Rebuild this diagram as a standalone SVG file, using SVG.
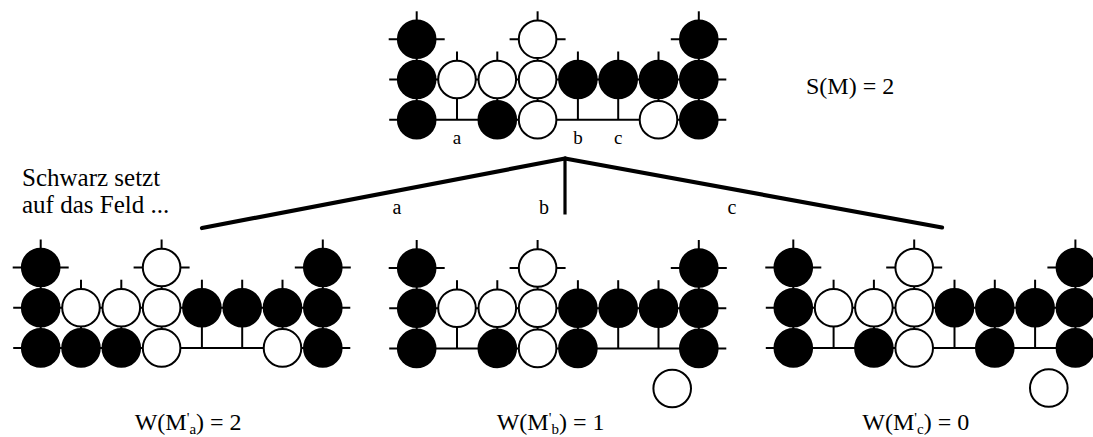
<svg xmlns="http://www.w3.org/2000/svg" xmlns:xlink="http://www.w3.org/1999/xlink" width="1093" height="437" viewBox="0 0 1093 437">
<style>
.ln{stroke:#000;stroke-width:2;fill:none}
.b{fill:#000;stroke:#000;stroke-width:2}
.w{fill:#fff;stroke:#000;stroke-width:2}
.t{font-family:"Liberation Serif","Times New Roman",serif;fill:#000}
.lbl{font-size:19px;text-anchor:middle}
.big{font-size:24px}
.con{stroke:#000;stroke-width:4.2;stroke-linecap:round;fill:none}
</style>
<defs>
<g id="grid" class="ln">
<line x1="-27.5" y1="40.2" x2="309.6" y2="40.2"/>
<line x1="-27.5" y1="80.4" x2="309.6" y2="80.4"/>
<line x1="-28" y1="0" x2="28" y2="0"/>
<line x1="92.9" y1="0" x2="148.9" y2="0"/>
<line x1="254.1" y1="0" x2="310.1" y2="0"/>
<line x1="0" y1="-28" x2="0" y2="80.4"/>
<line x1="120.9" y1="-28" x2="120.9" y2="80.4"/>
<line x1="282.1" y1="-28" x2="282.1" y2="80.4"/>
<line x1="40.3" y1="12.2" x2="40.3" y2="80.4"/>
<line x1="80.6" y1="12.2" x2="80.6" y2="80.4"/>
<line x1="161.2" y1="12.2" x2="161.2" y2="80.4"/>
<line x1="201.5" y1="12.2" x2="201.5" y2="80.4"/>
<line x1="241.8" y1="12.2" x2="241.8" y2="80.4"/>
</g>
<g id="upper">
<circle class="b" cx="0" cy="0" r="18.8"/>
<circle class="w" cx="120.9" cy="0" r="18.8"/>
<circle class="b" cx="282.1" cy="0" r="18.8"/>
<circle class="b" cx="0" cy="40.2" r="18.8"/>
<circle class="w" cx="40.3" cy="40.2" r="18.8"/>
<circle class="w" cx="80.6" cy="40.2" r="18.8"/>
<circle class="w" cx="120.9" cy="40.2" r="18.8"/>
<circle class="b" cx="161.2" cy="40.2" r="18.8"/>
<circle class="b" cx="201.5" cy="40.2" r="18.8"/>
<circle class="b" cx="241.8" cy="40.2" r="18.8"/>
<circle class="b" cx="282.1" cy="40.2" r="18.8"/>
</g>
</defs>

<g id="position-M" transform="translate(416.7,39.3)">
<use xlink:href="#grid"/>
<use xlink:href="#upper"/>
<circle class="b" cx="0" cy="80.4" r="18.8"/>
<circle class="b" cx="80.6" cy="80.4" r="18.8"/>
<circle class="w" cx="120.9" cy="80.4" r="18.8"/>
<circle class="w" cx="241.8" cy="80.4" r="18.8"/>
<circle class="b" cx="282.1" cy="80.4" r="18.8"/>
<text class="t lbl" x="40.3" y="104.5">a</text>
<text class="t lbl" x="161.2" y="104.5">b</text>
<text class="t lbl" x="201.5" y="104.5">c</text>
</g>
<text id="score-S" class="t big" x="806" y="94" font-size="26">S(M) = 2</text>

<g id="connectors">
<line class="con" x1="565" y1="158.5" x2="202" y2="228"/>
<line class="con" x1="565" y1="158.5" x2="942" y2="227.5"/>
<line x1="565" y1="158.5" x2="565" y2="214.5" stroke="#000" stroke-width="3.2"/>
<text class="t" x="397" y="214" font-size="20" text-anchor="middle">a</text>
<text class="t" x="544" y="214" font-size="20" text-anchor="middle">b</text>
<text class="t" x="732" y="214" font-size="20" text-anchor="middle">c</text>
</g>

<g id="caption">
<text class="t" x="22" y="186" font-size="25">Schwarz setzt</text>
<text class="t" x="22" y="213" font-size="25">auf das Feld ...</text>
</g>

<g id="position-Ma" transform="translate(40.7,267.5)">
<use xlink:href="#grid"/>
<use xlink:href="#upper"/>
<circle class="b" cx="0" cy="80.4" r="18.8"/>
<circle class="b" cx="40.3" cy="80.4" r="18.8"/>
<circle class="b" cx="80.6" cy="80.4" r="18.8"/>
<circle class="w" cx="120.9" cy="80.4" r="18.8"/>
<circle class="w" cx="241.8" cy="80.4" r="18.8"/>
<circle class="b" cx="282.1" cy="80.4" r="18.8"/>
<text class="t big" x="94" y="162.5">W(M<tspan font-size="15" dy="-7">'</tspan><tspan font-size="15" dy="11">a</tspan><tspan dy="-4">) = 2</tspan></text>
</g>

<g id="position-Mb" transform="translate(416.7,268)">
<use xlink:href="#grid"/>
<use xlink:href="#upper"/>
<circle class="b" cx="0" cy="80.4" r="18.8"/>
<circle class="b" cx="80.6" cy="80.4" r="18.8"/>
<circle class="w" cx="120.9" cy="80.4" r="18.8"/>
<circle class="b" cx="161.2" cy="80.4" r="18.8"/>
<circle class="b" cx="282.1" cy="80.4" r="18.8"/>
<circle class="w" cx="255.5" cy="120.5" r="18.8"/>
<text class="t big" x="80" y="162">W(M<tspan font-size="15" dy="-7">'</tspan><tspan font-size="15" dy="11">b</tspan><tspan dy="-4">) = 1</tspan></text>
</g>

<g id="position-Mc" transform="translate(793.3,267.5)">
<use xlink:href="#grid"/>
<use xlink:href="#upper"/>
<circle class="b" cx="0" cy="80.4" r="18.8"/>
<circle class="b" cx="80.6" cy="80.4" r="18.8"/>
<circle class="w" cx="120.9" cy="80.4" r="18.8"/>
<circle class="b" cx="201.5" cy="80.4" r="18.8"/>
<circle class="b" cx="282.1" cy="80.4" r="18.8"/>
<circle class="w" cx="255.5" cy="120.5" r="18.8"/>
<text class="t big" x="69" y="162.5">W(M<tspan font-size="15" dy="-7">'</tspan><tspan font-size="15" dy="11">c</tspan><tspan dy="-4">) = 0</tspan></text>
</g>
</svg>
